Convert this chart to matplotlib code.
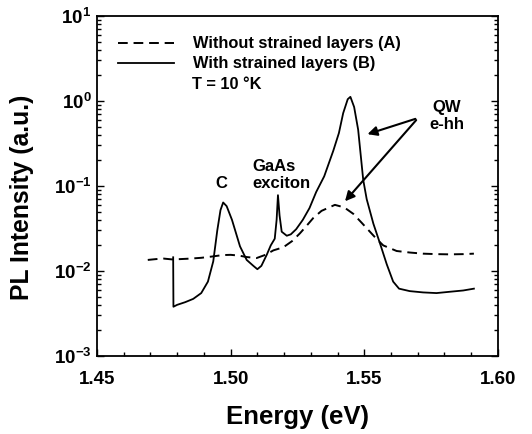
import math
import matplotlib
matplotlib.use('Agg')
import matplotlib.pyplot as plt
from matplotlib.ticker import MultipleLocator, LogLocator, FuncFormatter, NullFormatter

plt.rcParams['font.family'] = ['Liberation Sans', 'DejaVu Sans']
plt.rcParams['font.weight'] = 'bold'
plt.rcParams['mathtext.fontset'] = 'custom'
plt.rcParams['mathtext.bf'] = 'Liberation Sans:bold'
plt.rcParams['mathtext.rm'] = 'Liberation Sans:bold'

# sample A: without strained layers (dashed)
energy_a = [1.469, 1.472, 1.475, 1.478, 1.481, 1.485, 1.489, 1.493, 1.497, 1.500,
            1.503, 1.506, 1.5097, 1.513, 1.516, 1.5197, 1.523, 1.5259, 1.5284, 1.5309,
            1.534, 1.539, 1.5425, 1.5459, 1.549, 1.5521, 1.5545, 1.5571, 1.5621, 1.567,
            1.572, 1.577, 1.582, 1.587, 1.591]
pl_a = [0.0135, 0.0138, 0.0140, 0.0137, 0.0138, 0.0140, 0.0143, 0.0148, 0.0154, 0.0155,
        0.0152, 0.0146, 0.0142, 0.0155, 0.0175, 0.0190, 0.0225, 0.0277, 0.0340, 0.0420,
        0.0510, 0.0600, 0.0560, 0.0470, 0.0370, 0.0290, 0.0240, 0.0200, 0.0172, 0.0165,
        0.0160, 0.0158, 0.0157, 0.0158, 0.0160]

# sample B: with strained layers (solid)
energy_b = [1.4785, 1.4786, 1.480, 1.483, 1.486, 1.489, 1.4915, 1.4935, 1.4950, 1.4962,
            1.4972, 1.4985, 1.5005, 1.5035, 1.506, 1.5085, 1.5100, 1.5115, 1.5135, 1.5150,
            1.5165, 1.5172, 1.5177, 1.5183, 1.5191, 1.521, 1.5225, 1.5245, 1.527, 1.5295,
            1.532, 1.535, 1.5384, 1.5405, 1.5421, 1.5438, 1.5448, 1.5462, 1.5477, 1.5496,
            1.5509, 1.5534, 1.5559, 1.5584, 1.5608, 1.563, 1.567, 1.572, 1.577, 1.582,
            1.587, 1.591]
pl_b = [0.0145, 0.0038, 0.0040, 0.0043, 0.0047, 0.0055, 0.0075, 0.013, 0.030, 0.052,
        0.064, 0.058, 0.040, 0.0195, 0.0135, 0.0115, 0.0105, 0.0115, 0.0155, 0.020,
        0.024, 0.040, 0.078, 0.045, 0.029, 0.026, 0.027, 0.031, 0.040, 0.055,
        0.085, 0.13, 0.26, 0.42, 0.72, 1.05, 1.12, 0.85, 0.46, 0.118,
        0.070, 0.036, 0.021, 0.012, 0.0075, 0.0062, 0.0058, 0.0056, 0.0055, 0.0057,
        0.0059, 0.0062]

x_ticks = [1.45, 1.50, 1.55, 1.60]
x_tick_labels = ['1.45', '1.50', '1.55', '1.60']

fig = plt.figure(figsize=(5.32, 4.34), dpi=100)
ax = fig.add_axes([0.1823, 0.1797, 0.7537, 0.7834])

ax.semilogy(energy_a, pl_a, color='black', lw=1.4, dashes=(5, 3),
            label='Without strained layers (A)')
ax.semilogy(energy_b, pl_b, color='black', lw=1.3,
            label='With strained layers (B)')

ax.set_xlim(1.45, 1.60)
ax.set_ylim(1e-3, 1e1)
ax.set_xticks(x_ticks)
ax.set_xticklabels(x_tick_labels)
ax.xaxis.set_minor_locator(MultipleLocator(0.01))
ax.yaxis.set_major_locator(LogLocator(base=10))
ax.yaxis.set_minor_locator(LogLocator(base=10, subs=range(2, 10)))
ax.yaxis.set_minor_formatter(NullFormatter())
ax.yaxis.set_major_formatter(FuncFormatter(lambda v, p: r'$\mathbf{10^{%d}}$' % round(math.log10(v))))

ax.tick_params(which='both', direction='in', top=False, right=True, width=1)
ax.tick_params(axis='x', which='major', pad=11, length=5, labelsize=13.5)
ax.tick_params(axis='y', which='major', pad=4, length=5, labelsize=13.5)
ax.tick_params(which='minor', length=3)
for lab in ax.get_xticklabels():
    lab.set_fontweight('bold')
for s in ax.spines.values():
    s.set_linewidth(1.3)

ax.set_xlabel('Energy (eV)', fontsize=18.5, fontweight='bold', labelpad=12)
ax.set_ylabel('PL Intensity (a.u.)', fontsize=17.8, fontweight='bold')
ax.yaxis.set_label_coords(-0.158, 0.468)

ax.legend(loc='upper left', bbox_to_anchor=(0.052, 0.94), frameon=False,
          fontsize=11.8, handlelength=3.4, handletextpad=1.2, labelspacing=0.3,
          borderpad=0, borderaxespad=0)
ax.text(1.4855, 1.38, 'T = 10 °K', fontsize=11.8, fontweight='bold', va='baseline')

ax.text(1.4964, 0.106, 'C', fontsize=12, fontweight='bold', ha='center', va='center')
ax.text(1.508, 0.135, 'GaAs\nexciton', fontsize=12, fontweight='bold', ha='left',
        va='center', linespacing=1.15)
ax.text(1.5809, 0.667, 'QW\ne-hh', fontsize=12, fontweight='bold', ha='center',
        va='center', linespacing=1.15)

arrow = dict(arrowstyle='-|>', color='black', lw=1.5, mutation_scale=14)
ax.annotate('', xy=(1.5502, 0.398), xytext=(1.5701, 0.631), arrowprops=arrow)
ax.annotate('', xy=(1.5421, 0.0625), xytext=(1.5701, 0.631), arrowprops=arrow)

fig.savefig('out.png', dpi=100)
